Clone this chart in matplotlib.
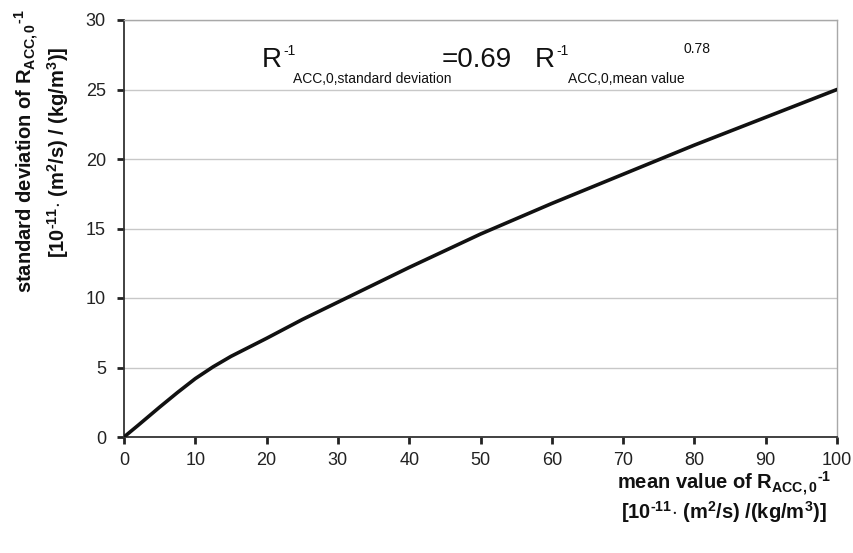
import matplotlib
matplotlib.use("Agg")
import matplotlib.pyplot as plt

plt.rcParams['font.family'] = ['Liberation Sans', 'DejaVu Sans']
plt.rcParams['mathtext.fontset'] = 'custom'
plt.rcParams['mathtext.rm'] = 'Liberation Sans:bold'
plt.rcParams['mathtext.bf'] = 'Liberation Sans:bold'
plt.rcParams['mathtext.it'] = 'Liberation Sans:bold'

# data
mean_value = [0, 2, 5, 7.5, 10, 12.5, 15, 20, 25, 30, 40, 50, 60, 70, 80, 90, 100]
std_dev = [0, 0.85, 2.15, 3.2, 4.2, 5.05, 5.8, 7.1, 8.45, 9.7, 12.2, 14.6, 16.8, 18.9, 21.0, 23.0, 25.0]
x_ticks = [0, 10, 20, 30, 40, 50, 60, 70, 80, 90, 100]
y_ticks = [0, 5, 10, 15, 20, 25, 30]

W, H = 854, 553
fig = plt.figure(figsize=(W / 100, H / 100), dpi=100)
L, R, T, B = 124, 837, 20, 437
ax = fig.add_axes([L / W, 1 - B / H, (R - L) / W, (B - T) / H])

ax.set_xlim(0, 100)
ax.set_ylim(0, 30)
ax.set_xticks(x_ticks)
ax.set_yticks(y_ticks)
ax.yaxis.grid(True, color='#c8c8c8', linewidth=1.0)
ax.set_axisbelow(True)

ax.plot(mean_value, std_dev, color='#111111', linewidth=2.6, solid_capstyle='round',
        solid_joinstyle='round', zorder=3)

for s in ['left', 'bottom']:
    ax.spines[s].set_color('#333333')
    ax.spines[s].set_linewidth(1.3)
for s in ['top', 'right']:
    ax.spines[s].set_color('#a8a8a8')
    ax.spines[s].set_linewidth(1.0)

ax.tick_params(axis='both', direction='out', length=5, width=2, color='#222222',
               labelsize=13, labelcolor='#222222')
ax.tick_params(axis='x', pad=6)
ax.tick_params(axis='y', pad=8)
ax.tick_params(top=False, right=False)

def px(x, y):
    return x / W, 1 - y / H

# equation text
col = '#111111'
big, small = 20, 10
pieces = [
    (262, 67, 'R', big),
    (283, 55, '-1', small),
    (293, 83, 'ACC,0,standard deviation', small),
    (442, 67, '=0.69', big),
    (535, 67, 'R', big),
    (556, 55, '-1', small),
    (568, 83, 'ACC,0,mean value', small),
    (684, 53, '0.78', small),
]
for x, y, s, fs in pieces:
    fig.text(*px(x, y), s, fontsize=fs, color=col, ha='left', va='baseline')

lab_fs = 14.5
xl1 = r'mean value of R$_{\mathbf{ACC,0}}{}^{\mathbf{\text{-1}}}$'
xl2 = r'[10$^{\mathbf{\text{-11}}}$$\mathbf{\cdot}$ (m$^{\mathbf{2}}$/s) /(kg/m$^{\mathbf{3}}$)]'
yl1 = r'standard deviation of R$_{\mathbf{ACC,0}}{}^{\mathbf{\text{-1}}}$'
yl2 = r'[10$^{\mathbf{\text{-11}}}$$\mathbf{\cdot}$ (m$^{\mathbf{2}}$/s) / (kg/m$^{\mathbf{3}}$)]'

fig.text(*px(724, 490), xl1, fontsize=lab_fs, fontweight='bold', color=col,
         ha='center', va='baseline')
fig.text(*px(724, 519), xl2, fontsize=lab_fs, fontweight='bold', color=col,
         ha='center', va='baseline')

fig.text(*px(33, 151), yl1, fontsize=lab_fs, fontweight='bold', color=col,
         ha='center', va='baseline', rotation=90, rotation_mode='anchor')
fig.text(*px(65, 152), yl2, fontsize=lab_fs, fontweight='bold', color=col,
         ha='center', va='baseline', rotation=90, rotation_mode='anchor')

fig.savefig('out.png', dpi=100)
